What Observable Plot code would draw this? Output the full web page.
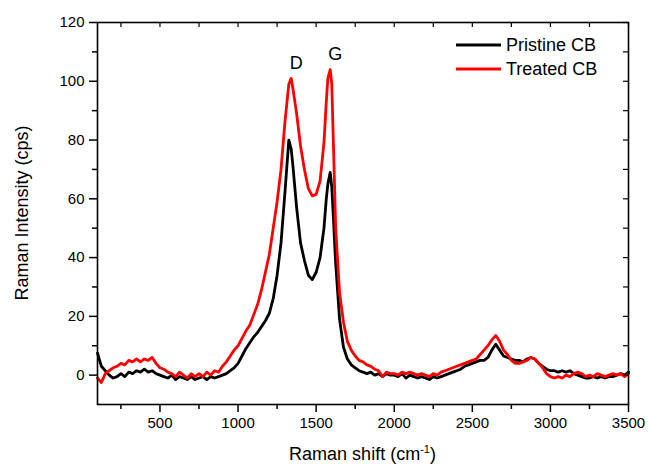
<!DOCTYPE html>
<html>
<head>
<meta charset="utf-8">
<script src="https://cdn.jsdelivr.net/npm/d3@7"></script>
<script src="https://cdn.jsdelivr.net/npm/@observablehq/plot@0.6"></script>
<style>
  body { margin: 0; background: white; }
  #chart { position: relative; width: 649px; height: 467px; }
</style>
</head>
<body>
<div id="chart"></div>
<script>
// Raman shift grid (cm^-1)
const shift = [
  100,125,150,175,200,225,250,275,300,325,350,375,400,425,450,475,
  500,525,550,575,600,625,650,675,700,725,750,775,800,825,850,875,900,925,950,975,
  1000,1025,1050,1075,1100,1125,1150,1175,1200,1225,1250,1275,1300,1325,1340,1350,1375,1400,1425,1450,1475,
  1500,1525,1550,1565,1575,1590,1600,1610,1625,1650,1675,1700,1725,1750,1775,1800,1825,1850,1875,1900,1925,1950,1975,
  2000,2025,2050,2075,2100,2125,2150,2175,2200,2225,2250,2275,2300,2325,2350,2375,2400,2425,2450,2475,
  2500,2525,2550,2575,2600,2625,2650,2675,2700,2725,2750,2775,2800,2825,2850,2875,2900,2925,2950,2975,
  3000,3025,3050,3075,3100,3125,3150,3175,3200,3225,3250,3275,3300,3325,3350,3375,3400,3425,3450,3475,3500
];
// Pristine CB intensity (cps)
const pristine = [
  7.5,3,1.5,0,-1,-0.5,0.5,-0.5,1,0.5,1.5,1,2,1,1.5,0.5,
  0,-0.5,-1,0,-1.5,-0.5,-1,-1.5,-0.5,-1.5,-1,-0.5,-1.5,-0.5,-1,-0.5,0,0.5,1.5,2.5,
  4,6.5,9,11,13,14.5,16.5,18.5,21,26,34,45,62,80,77,72,57,45,39,34,32.5,
  35,40,50,60,65,69,64,54,38,19,9.5,5.5,3.5,2.5,1.5,1,0.5,1,0,0.5,-0.5,0.5,0,
  0,-0.5,0.5,-1,0,-0.5,-1,-0.5,-1,-1.5,-0.5,-1,-0.5,0,0.5,1,1.5,2,3,3.5,
  4,4.5,5,5,6,8.5,10.5,8.5,6.5,6,5.5,5,5,4.5,5.5,6,5.5,4,3,2,
  1.5,1.5,1,1.5,1,1.5,0.5,0,-0.5,-1,-1,-0.5,-1,-0.5,-1,-0.5,-0.5,0,0.5,0,1
];
// Treated CB intensity (cps)
const treated = [
  -1,-2.5,0.5,1.5,2.5,3,4,3.5,5,4.5,5.5,4.5,5.5,5,6,4,
  2.5,2,1,0.5,-0.5,1,0,-1,0.5,-0.5,0.5,-0.5,1,0,1.5,1,3,4.5,6.5,8.5,
  10,12.5,15,17,20.5,24,29,35,41,50,59,70,86,99,101,98,89,78,70,63.5,61,
  61.5,66,79,93,101,104,99,80,50,28,18,11.5,8.5,6.5,5,4.5,3.5,3,2,1.5,-0.5,1,0.5,
  0.5,0,1,0.5,1,0.5,0,0.5,0,-0.5,0.5,0,1,1.5,2,2.5,3,3.5,4,4.5,
  5,5.5,7,8.5,10,12,13.5,11.5,8.5,7,5,4,4,4.5,5,6,5.5,4,2.5,0.5,
  -0.5,-1,-0.5,-1,0,-0.5,0.5,1,0.5,-0.5,0,-0.5,0.5,0,-0.5,0,0.5,0,0.5,-0.5,0.5
];
const seriesNames = ["Pristine CB", "Treated CB"];
const seriesColors = ["#000000", "#ff0000"];
const xTicks = [500, 1000, 1500, 2000, 2500, 3000, 3500];
const xMinor = [250, 750, 1250, 1750, 2250, 2750, 3250];
const yTicks = [0, 20, 40, 60, 80, 100, 120];
const yMinor = [10, 30, 50, 70, 90, 110];
const peakNames = ["D", "G"];
const peakWindows = [[1200, 1450], [1450, 1700]];

const W = 649, H = 467, mL = 97, mR = 21, mT = 22, mB = 63;
const pw = W - mL - mR, ph = H - mT - mB;

const rows = [];
shift.forEach((s, i) => {
  rows.push({shift: s, intensity: pristine[i], series: seriesNames[0]});
});
shift.forEach((s, i) => {
  rows.push({shift: s, intensity: treated[i], series: seriesNames[1]});
});

const peaks = peakNames.map((name, k) => {
  const [a, b] = peakWindows[k];
  let best = -1;
  shift.forEach((s, i) => {
    if (s >= a && s <= b && (best < 0 || treated[i] > treated[best])) best = i;
  });
  return {name, shift: shift[best], intensity: treated[best]};
});

const font = "'Liberation Sans', Arial, sans-serif";
const allX = xTicks.concat(xMinor);
const allY = yTicks.concat(yMinor);
const fmt = d => String(d);

const svg = Plot.plot({
  width: W, height: H,
  marginLeft: mL, marginRight: mR, marginTop: mT, marginBottom: mB,
  style: {fontFamily: font, color: "#000", background: "white", overflow: "visible"},
  x: {domain: [100, 3500]},
  y: {domain: [-10, 120]},
  marks: [
    Plot.line(rows.filter(d => d.series === seriesNames[0]), {x: "shift", y: "intensity", stroke: seriesColors[0], strokeWidth: 2.8, strokeLinejoin: "round"}),
    Plot.line(rows.filter(d => d.series === seriesNames[1]), {x: "shift", y: "intensity", stroke: seriesColors[1], strokeWidth: 2.8, strokeLinejoin: "round"}),
    Plot.text(peaks, {x: "shift", y: "intensity", text: "name", dy: -15, dx: 5, fontSize: 18, fill: "#000"}),
    Plot.axisX(xTicks, {anchor: "bottom", tickSize: 8, tickPadding: 5, fontSize: 15, label: null, strokeWidth: 1.5, tickFormat: fmt}),
    Plot.axisX(xMinor, {anchor: "bottom", tickSize: 5, fill: "none", label: null, strokeWidth: 1.5}),
    Plot.axisY(yTicks, {anchor: "left", tickSize: 8, tickPadding: 5, fontSize: 15, label: null, strokeWidth: 1.5, tickFormat: fmt}),
    Plot.axisY(yMinor, {anchor: "left", tickSize: 5, fill: "none", label: null, strokeWidth: 1.5}),
    Plot.ruleX(allX, {x: d => d, insetBottom: ph - 5, stroke: "#000", strokeWidth: 1.2}),
    Plot.ruleY(allY, {y: d => d, insetLeft: pw - 5, stroke: "#000", strokeWidth: 1.2}),
    Plot.frame({stroke: "#000", strokeWidth: 1.6})
  ]
});

const root = d3.select(svg);
// Axis titles
const xl = root.append("text")
  .attr("x", mL + pw / 2).attr("y", 460)
  .attr("text-anchor", "middle")
  .attr("font-family", font).attr("font-size", 18).attr("fill", "#000");
xl.append("tspan").text("Raman shift (cm");
xl.append("tspan").attr("font-size", 11).attr("dy", -7).text("-1");
xl.append("tspan").attr("dy", 7).text(")");

root.append("text")
  .attr("transform", `translate(22,${mT + ph / 2}) rotate(-90)`)
  .attr("text-anchor", "middle")
  .attr("dy", "0.35em")
  .attr("font-family", font).attr("font-size", 18).attr("fill", "#000")
  .text("Raman Intensity (cps)");

// Legend
seriesNames.forEach((name, i) => {
  const y = 45 + i * 24;
  root.append("line")
    .attr("x1", 456).attr("x2", 501).attr("y1", y).attr("y2", y)
    .attr("stroke", seriesColors[i]).attr("stroke-width", 2.8);
  root.append("text")
    .attr("x", 506).attr("y", y).attr("dy", "0.36em")
    .attr("text-anchor", "start")
    .attr("font-family", font).attr("font-size", 18).attr("fill", "#000")
    .text(name);
});

document.getElementById("chart").appendChild(svg);
</script>
</body>
</html>
